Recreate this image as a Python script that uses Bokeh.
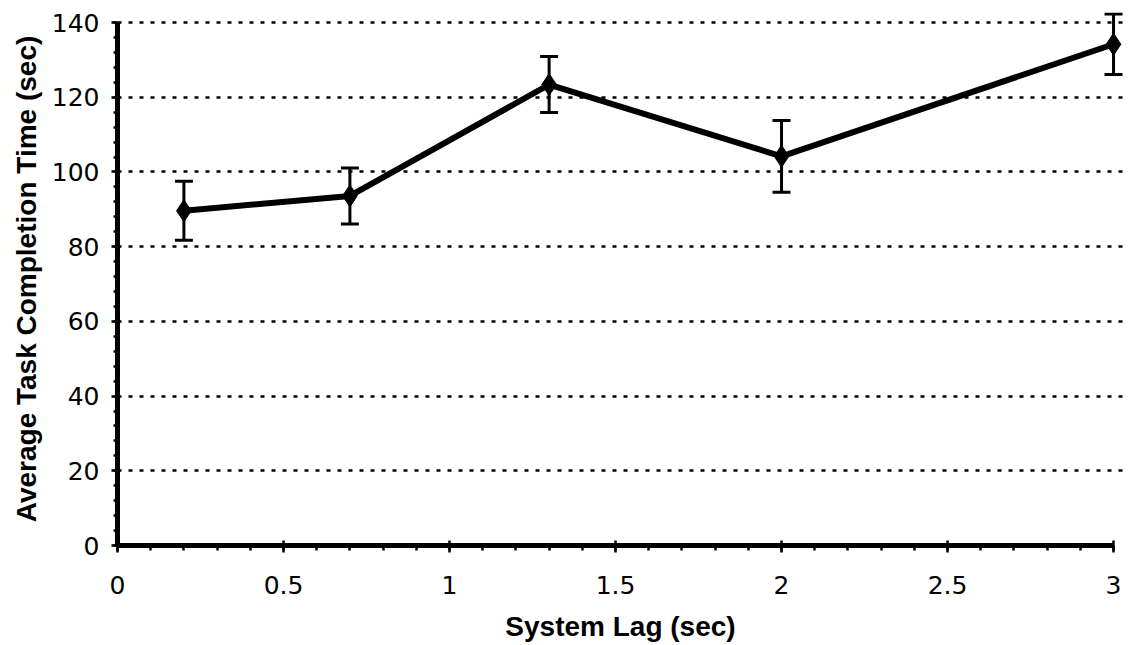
from bokeh.plotting import figure
from bokeh.models import ColumnDataSource, Whisker, TeeHead, FixedTicker, Range1d
from bokeh.embed import file_html
from bokeh.resources import INLINE

# data
lag = [0.2, 0.7, 1.3, 2.0, 3.0]
mean_time = [89.6, 93.6, 123.4, 104.2, 134.2]
err = [7.9, 7.5, 7.5, 9.6, 8.1]
x_ticks = [0, 0.5, 1, 1.5, 2, 2.5, 3]
x_tick_labels = {0: "0", 0.5: "0.5", 1: "1", 1.5: "1.5", 2: "2", 2.5: "2.5", 3: "3"}
y_ticks = [0, 20, 40, 60, 80, 100, 120, 140]
grid_ticks = [20, 40, 60, 80, 100, 120, 140]

src = ColumnDataSource(dict(
    x=lag, y=mean_time,
    lo=[m - e for m, e in zip(mean_time, err)],
    hi=[m + e for m, e in zip(mean_time, err)],
))

p = figure(width=1124, height=645, output_backend="svg", toolbar_location=None,
           x_range=Range1d(0, 3.03), y_range=Range1d(0, 142.7),
           min_border_left=117, min_border_right=1, min_border_top=12, min_border_bottom=100)
p.outline_line_color = None
p.background_fill_color = "white"
p.border_fill_color = "white"

# grid
p.xgrid.visible = False
p.ygrid.ticker = FixedTicker(ticks=grid_ticks)
p.ygrid.grid_line_color = "black"
p.ygrid.grid_line_width = 2.5
p.ygrid.grid_line_dash = "4 7"

# axes
p.xaxis.ticker = FixedTicker(ticks=x_ticks, minor_ticks=[i / 10 for i in range(0, 31)])
p.xaxis.major_label_overrides = x_tick_labels
p.yaxis.ticker = FixedTicker(ticks=y_ticks, minor_ticks=list(range(0, 141, 4)))
p.xaxis.bounds = (0, 3)
p.yaxis.bounds = (0, 140)
for ax in (p.xaxis, p.yaxis):
    ax.axis_line_width = 5
    ax.axis_line_color = "black"
    ax.major_tick_line_width = 2.5
    ax.minor_tick_line_width = 2.5
    ax.major_tick_line_color = "black"
    ax.minor_tick_line_color = "black"
    ax.major_label_text_font = "DejaVu Sans"
    ax.major_label_text_font_size = "25px"
    ax.major_label_text_color = "black"
    ax.axis_label_text_font = "Liberation Sans"
    ax.axis_label_text_font_style = "bold"
    ax.axis_label_text_font_size = "28px"
    ax.axis_label_text_color = "black"

p.xaxis.major_tick_in = 5
p.xaxis.major_tick_out = 7
p.xaxis.minor_tick_in = 0
p.xaxis.minor_tick_out = 5
p.xaxis.major_label_standoff = 23
p.xaxis.axis_label = "System Lag (sec)"
p.xaxis.axis_label_standoff = 14

p.yaxis.major_tick_in = 0
p.yaxis.major_tick_out = 6
p.yaxis.minor_tick_in = 0
p.yaxis.minor_tick_out = 4
p.yaxis.major_label_standoff = 12
p.yaxis.axis_label = "Average Task Completion Time (sec)"
p.yaxis.axis_label_standoff = 7

# series
p.line("x", "y", source=src, line_color="black", line_width=6)
p.add_layout(Whisker(source=src, base="x", upper="hi", lower="lo",
                     line_color="black", line_width=3,
                     upper_head=TeeHead(size=18, line_width=3, line_color="black"),
                     lower_head=TeeHead(size=18, line_width=3, line_color="black")))
p.scatter("x", "y", source=src, marker="diamond", size=22, fill_color="black",
          line_color="black", line_width=1)

open("out.html", "w").write(file_html(p, INLINE))
